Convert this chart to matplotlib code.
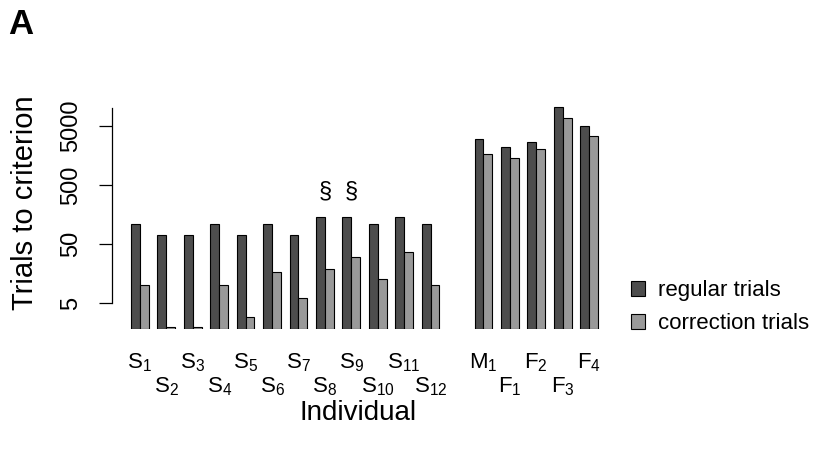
import numpy as np
import matplotlib
matplotlib.use("Agg")
import matplotlib.pyplot as plt
from matplotlib.ticker import NullLocator

plt.rcParams["font.family"] = ["Liberation Sans", "DejaVu Sans"]
plt.rcParams["mathtext.fontset"] = "custom"
plt.rcParams["mathtext.rm"] = "Liberation Sans"
plt.rcParams["mathtext.it"] = "Liberation Sans"

# individuals (an empty slot separates the two groups)
names = ["S$_{1}$", "S$_{2}$", "S$_{3}$", "S$_{4}$", "S$_{5}$", "S$_{6}$",
         "S$_{7}$", "S$_{8}$", "S$_{9}$", "S$_{10}$", "S$_{11}$", "S$_{12}$",
         "M$_{1}$", "F$_{1}$", "F$_{2}$", "F$_{3}$", "F$_{4}$"]
slots = [0, 1, 2, 3, 4, 5, 6, 7, 8, 9, 10, 11, 13, 14, 15, 16, 17]
regular = [108, 71, 71, 108, 71, 108, 71, 143, 143, 108, 143, 108,
           2980, 2180, 2710, 10400, 5060]
correction = [10, 1.95, 1.95, 10, 2.9, 17, 6, 19, 30, 13, 37, 10,
              1660, 1450, 2040, 6830, 3430]
marked = [7, 8]  # S8, S9 get a section sign

ybot = 1.79
dark = "#4d4d4d"
light = "#999999"

fig = plt.figure(figsize=(8.4, 4.59), dpi=100)
ax = fig.add_axes([112 / 840, 1 - 329.3 / 459, 503.6 / 840, 229.3 / 459])

centers = np.array(slots) * 3 + 2
reg = np.array(regular)
cor = np.array(correction)
ax.bar(centers - 0.5, reg - ybot, bottom=ybot, width=1, color=dark,
       edgecolor="black", linewidth=0.8, label="regular trials")
ax.bar(centers + 0.5, cor - ybot, bottom=ybot, width=1, color=light,
       edgecolor="black", linewidth=0.8, label="correction trials")

for i in marked:
    ax.text(centers[i], reg[i] * 1.8, "§", ha="center", va="bottom", fontsize=17)

ax.set_yscale("log")
ax.set_ylim(ybot, 13800)
ax.set_xlim(-1.16, 56)
ax.set_yticks([5, 50, 500, 5000], ["5", "50", "500", "5000"])
ax.yaxis.set_minor_locator(NullLocator())
for lab in ax.get_yticklabels():
    lab.set_rotation(90)
    lab.set_va("center")
ax.tick_params(axis="y", length=9.5, width=0.9, pad=12, labelsize=17)

ax.spines["top"].set_visible(False)
ax.spines["right"].set_visible(False)
ax.spines["bottom"].set_visible(False)
ax.spines["left"].set_bounds(5, 10000)
ax.spines["left"].set_linewidth(0.9)

# two rows of individual labels
ax.set_xticks(centers[0::2], names[0::2])
ax.set_xticks(centers[1::2], names[1::2], minor=True)
ax.tick_params(axis="x", which="both", length=0, labelsize=16)
ax.tick_params(axis="x", which="major", pad=16)
ax.tick_params(axis="x", which="minor", pad=33)

fig.text(25 / 840, 1 - 203 / 459, "Trials to criterion", rotation=90,
         ha="center", va="center", fontsize=21)
fig.text(358 / 840, 1 - 413 / 459, "Individual", ha="center", va="center",
         fontsize=20)
fig.text(8 / 840, 1 - 24 / 459, "A", ha="left", va="center", fontsize=25,
         fontweight="bold")

fig.legend(loc="upper left", bbox_to_anchor=(622 / 840, 1 - 271 / 459),
           frameon=False, fontsize=16, handlelength=0.65, handleheight=0.65,
           handletextpad=0.55, labelspacing=0.55, borderaxespad=0)

fig.savefig("out.png", dpi=100)
